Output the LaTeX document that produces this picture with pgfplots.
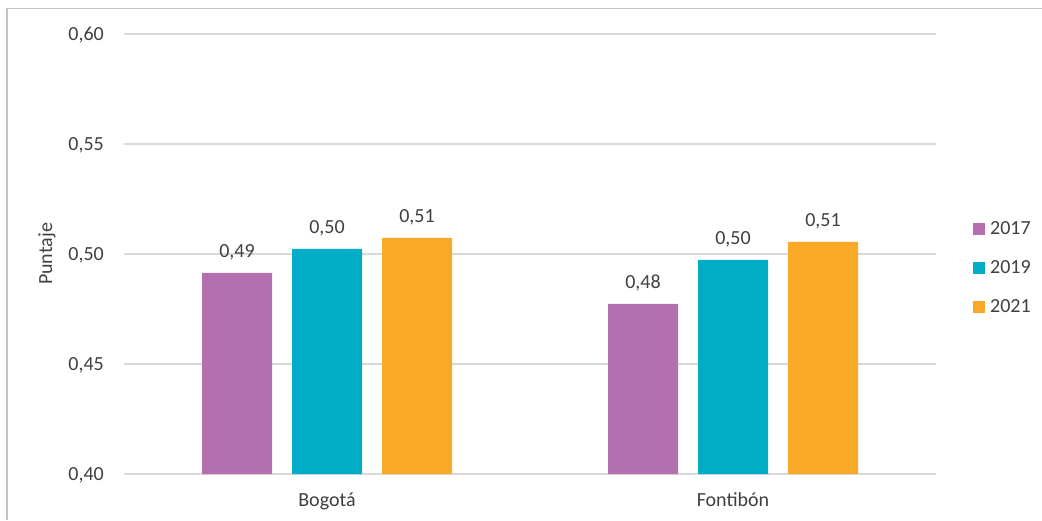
\documentclass[border=0pt]{standalone}
\usepackage{pgfplots}
\pgfplotsset{compat=1.18}
\usepackage{fontspec}
\setmainfont{Carlito}
\definecolor{c17}{HTML}{B36FAF}
\definecolor{c19}{HTML}{00ACC6}
\definecolor{c21}{HTML}{F9A828}
\definecolor{gridc}{HTML}{D9D9D9}
\definecolor{txt}{HTML}{404040}
\definecolor{frame}{HTML}{C4C4C4}
\begin{document}
\begin{tikzpicture}[x=1pt,y=1pt,font=\fontsize{20}{24}\selectfont]
\useasboundingbox (0,0) rectangle (1042,520);
\fill[white] (0,0) rectangle (1042,520);
\draw[frame,line width=1.5pt] (7,0) -- (7,511.5) -- (1042,511.5);
\begin{axis}[
  at={(124pt,46pt)}, anchor=south west,
  scale only axis, width=812pt, height=440pt,
  xmin=-0.5, xmax=1.5, ymin=0.40, ymax=0.60,
  xtick={0,1}, xticklabels={Bogotá,Fontibón},
  ytick={0.40,0.45,0.50,0.55,0.60},
  major tick length=0pt,
  axis line style={draw=none},
  ymajorgrids, grid style={gridc,line width=1.3pt},
  /pgf/number format/.cd, fixed, fixed zerofill, precision=2, use comma, assume math mode=true,
  /pgfplots/.cd,
  tick label style={text=txt},
  yticklabel style={anchor=base east, inner sep=0pt, xshift=-20pt, yshift=-6.5pt},
  xticklabel style={anchor=base, inner sep=0pt, yshift=-32pt},
  ylabel={Puntaje}, ylabel style={at={(axis description cs:-0.0948,0.5)}, anchor=center, text=txt},
  ybar, bar width=70pt,
  nodes near coords,
  every node near coord/.append style={anchor=base, inner sep=0pt, yshift=15pt, text=txt},
  legend style={at={(1,0.4695)}, anchor=west, xshift=37pt, draw=none, fill=none, inner sep=0pt,
    text=txt, row sep=26pt,
    nodes={inner sep=0pt, text height=13pt, text depth=0pt},
    /tikz/every odd column/.append style={column sep=5pt}},
  legend cell align=left,
  legend image code/.code={\fill[#1] (0pt,-6.5pt) rectangle (12pt,5.5pt);},
]
\addplot[fill=c17, draw=none, bar shift=-90pt] coordinates {(0,0.4914) (1,0.4773)};
\addplot[fill=c19, draw=none, bar shift=0pt] coordinates {(0,0.5023) (1,0.4973)};
\addplot[fill=c21, draw=none, bar shift=90pt] coordinates {(0,0.5073) (1,0.5055)};
\legend{2017,2019,2021}
\end{axis}
\end{tikzpicture}
\end{document}
